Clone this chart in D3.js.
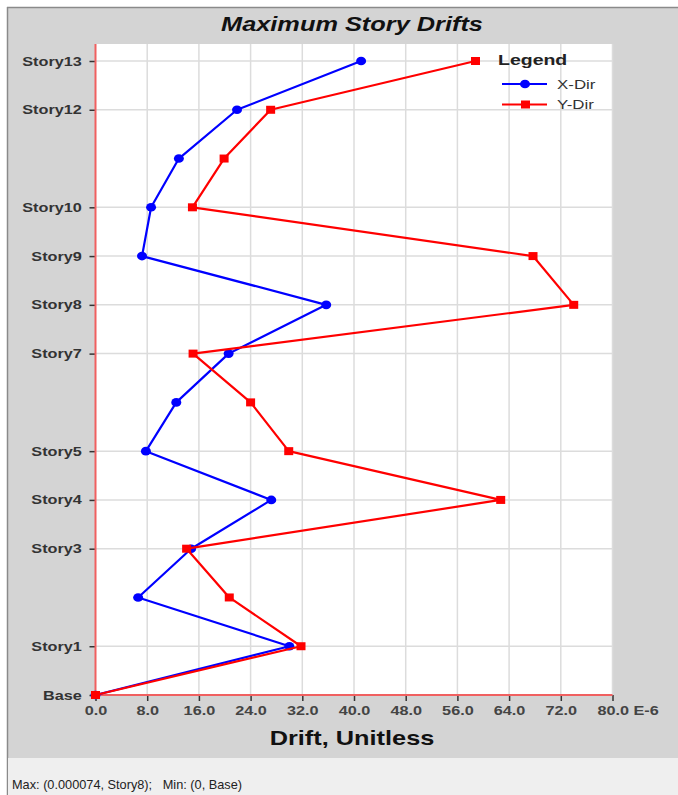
<!DOCTYPE html>
<html>
<head>
<meta charset="utf-8">
<script src="https://cdn.jsdelivr.net/npm/d3@7/dist/d3.min.js"></script>
<style>
  html, body { margin: 0; padding: 0; background: #ffffff; }
  svg { display: block; font-family: "Liberation Sans", Arial, sans-serif; }
</style>
</head>
<body>
<svg id="chart" width="678" height="795"></svg>
<script>
// Story levels, bottom to top
const stories = ["Base", "Story1", "Story2", "Story3", "Story4", "Story5", "Story6",
  "Story7", "Story8", "Story9", "Story10", "Story11", "Story12", "Story13"];
// Stories that carry an axis label (others are skipped for spacing)
const labeledStories = ["Base", "Story1", "Story3", "Story4", "Story5", "Story7",
  "Story8", "Story9", "Story10", "Story12", "Story13"];
// Maximum drifts, x 1E-6
const xDir = [0, 30.0, 6.6, 14.8, 27.2, 7.8, 12.5, 20.6, 35.7, 7.2, 8.6, 12.9, 21.9, 41.1];
const yDir = [0, 31.8, 20.7, 14.1, 62.7, 29.9, 24.0, 15.1, 74.0, 67.7, 15.0, 19.9, 27.1, 58.8];
const xTicks = [0, 8, 16, 24, 32, 40, 48, 56, 64, 72, 80];

const svg = d3.select("#chart");
const W = 678, H = 795;
const SX = 1.3; // horizontal stretch of the chart lettering

// text placed at (x, y) and widened horizontally
function wideText(parent, x, y, sx, str) {
  return parent.append("text")
    .attr("transform", `translate(${x},${y}) scale(${sx},1)`)
    .text(str);
}

// window frame
svg.append("rect").attr("x", 0).attr("y", 0).attr("width", W).attr("height", H).attr("fill", "#ffffff");
svg.append("rect").attr("x", 7).attr("y", 7).attr("width", W - 7).attr("height", 751)
  .attr("fill", "#d4d4d4");
svg.append("line").attr("x1", 7).attr("x2", W).attr("y1", 7.5).attr("y2", 7.5)
  .attr("stroke", "#8a8a8a").attr("stroke-width", 1.5);
svg.append("line").attr("x1", 7.5).attr("x2", 7.5).attr("y1", 7).attr("y2", H)
  .attr("stroke", "#8a8a8a").attr("stroke-width", 1.5);
svg.append("rect").attr("x", 8).attr("y", 758).attr("width", W - 8).attr("height", H - 758)
  .attr("fill", "#efefef");

// title
wideText(svg, 352, 31, SX, "Maximum Story Drifts")
  .attr("text-anchor", "middle")
  .attr("font-size", 19.5).attr("font-weight", "bold").attr("font-style", "italic")
  .attr("fill", "#111");

const pLeft = 95.5, pRight = 612.5, pTop = 44, pBottom = 695;
const x = d3.scaleLinear().domain([0, 80]).range([pLeft, pRight]);
const yIdx = d3.scaleLinear().domain([0, 13]).range([pBottom, 61]);
const y = s => yIdx(stories.indexOf(s));

// plot area
svg.append("rect").attr("x", pLeft).attr("y", pTop).attr("width", pRight - pLeft).attr("height", pBottom - pTop)
  .attr("fill", "#ffffff");

// grid
const g = svg.append("g");
g.selectAll(".vg").data(xTicks.slice(1)).join("line")
  .attr("x1", d => x(d)).attr("x2", d => x(d)).attr("y1", pTop).attr("y2", pBottom)
  .attr("stroke", "#dcdcdc").attr("stroke-width", 1.5);
g.selectAll(".hg").data(labeledStories.slice(1)).join("line")
  .attr("x1", pLeft).attr("x2", pRight).attr("y1", d => y(d)).attr("y2", d => y(d))
  .attr("stroke", "#dcdcdc").attr("stroke-width", 1.5);

// x axis
const xAxis = d3.axisBottom(x).tickValues(xTicks).tickSize(6).tickPadding(5)
  .tickFormat((d, i) => i === xTicks.length - 1 ? d3.format(".1f")(d) + " E-6" : d3.format(".1f")(d));
const xg = svg.append("g").attr("transform", `translate(0,${pBottom})`).call(xAxis);
xg.select(".domain").remove();
xg.selectAll(".tick line").attr("stroke", "#333").attr("stroke-width", 1.5);
xg.selectAll(".tick text").attr("fill", "#444").attr("font-size", 12.5).attr("font-weight", "bold")
  .attr("font-family", "'Liberation Sans', Arial, sans-serif")
  .attr("transform", `scale(${SX},1)`);
xg.selectAll(".tick").filter((d, i) => i === xTicks.length - 1).select("text")
  .attr("text-anchor", "start").attr("x", -12);

// y axis
const yAxis = d3.axisLeft(yIdx).tickValues(labeledStories.map(s => stories.indexOf(s)))
  .tickSize(6).tickPadding(6).tickFormat(i => stories[i]);
const yg = svg.append("g").attr("transform", `translate(${pLeft},0)`).call(yAxis);
yg.select(".domain").remove();
yg.selectAll(".tick line").attr("stroke", "#333").attr("stroke-width", 1.5);
yg.selectAll(".tick text").attr("fill", "#333").attr("font-size", 12.5).attr("font-weight", "bold")
  .attr("font-family", "'Liberation Sans', Arial, sans-serif")
  .attr("x", -10.5).attr("transform", `scale(${SX},1)`);

// red axis lines
svg.append("line").attr("x1", pLeft).attr("x2", pLeft).attr("y1", pTop).attr("y2", pBottom)
  .attr("stroke", "#f06060").attr("stroke-width", 2);
svg.append("line").attr("x1", pLeft).attr("x2", pRight).attr("y1", pBottom).attr("y2", pBottom)
  .attr("stroke", "#f06060").attr("stroke-width", 2);

// axis title
wideText(svg, 352, 745, SX, "Drift, Unitless").attr("text-anchor", "middle")
  .attr("font-size", 19.5).attr("font-weight", "bold").attr("fill", "#111");

// series
const line = d3.line().x(d => x(d.v)).y(d => yIdx(d.i));
const toPts = arr => arr.map((v, i) => ({ v, i }));

function drawSeries(vals, color, shape) {
  const pts = toPts(vals);
  svg.append("path").datum(pts).attr("d", line).attr("fill", "none")
    .attr("stroke", color).attr("stroke-width", 2.2).attr("stroke-linejoin", "round");
  const mk = svg.append("g");
  if (shape === "circle") {
    mk.selectAll("ellipse").data(pts).join("ellipse")
      .attr("cx", d => x(d.v)).attr("cy", d => yIdx(d.i)).attr("rx", 5).attr("ry", 4.3)
      .attr("fill", color);
  } else {
    mk.selectAll("rect").data(pts).join("rect")
      .attr("x", d => x(d.v) - 4.5).attr("y", d => yIdx(d.i) - 4).attr("width", 9).attr("height", 8)
      .attr("fill", color);
  }
}
drawSeries(xDir, "#0000ff", "circle");
drawSeries(yDir, "#ff0000", "square");

// legend
const lg = svg.append("g");
wideText(lg, 498, 65, SX, "Legend").attr("font-size", 15).attr("font-weight", "bold")
  .attr("fill", "#222");
const legendItems = [
  { name: "X-Dir", color: "#0000ff", shape: "circle" },
  { name: "Y-Dir", color: "#ff0000", shape: "square" }
];
legendItems.forEach((it, k) => {
  const ly = 84 + k * 20.5;
  lg.append("line").attr("x1", 502).attr("x2", 547).attr("y1", ly).attr("y2", ly)
    .attr("stroke", it.color).attr("stroke-width", 2.2);
  if (it.shape === "circle") {
    lg.append("ellipse").attr("cx", 525).attr("cy", ly).attr("rx", 5).attr("ry", 4.3).attr("fill", it.color);
  } else {
    lg.append("rect").attr("x", 521).attr("y", ly - 4).attr("width", 9).attr("height", 8).attr("fill", it.color);
  }
  wideText(lg, 557, ly + 4.5, SX, it.name).attr("font-size", 13).attr("fill", "#333");
});

// status line
wideText(svg, 12, 789, 1.02, "Max: (0.000074, Story8);   Min: (0, Base)")
  .style("white-space", "pre").attr("font-size", 12.5).attr("fill", "#222");
</script>
</body>
</html>
